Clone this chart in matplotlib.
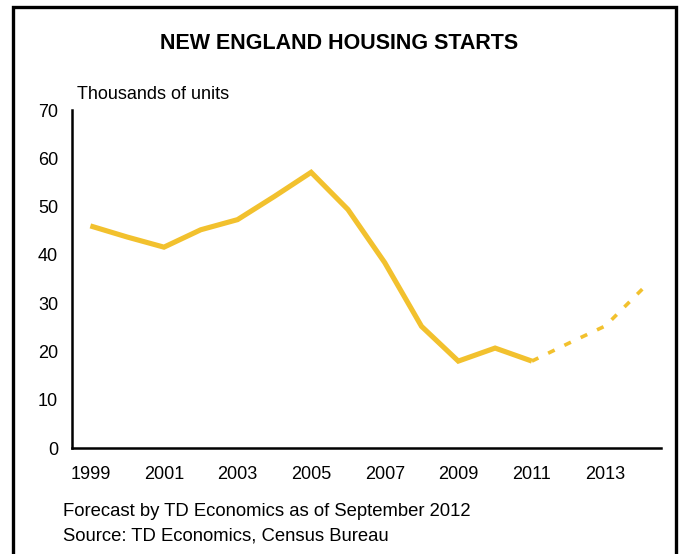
import matplotlib
matplotlib.use("Agg")
import matplotlib.pyplot as plt

plt.rcParams['font.family'] = ['Liberation Sans', 'DejaVu Sans']

# housing starts, thousands of units
years = list(range(1999, 2015))
actual_years = list(range(1999, 2012))
actual = [46.0, 43.7, 41.6, 45.2, 47.3, 52.1, 57.1, 49.4, 38.4, 25.2, 18.0, 20.7, 18.0]
forecast_years = [2011, 2012, 2013, 2014]
forecast = [18.0, 21.7, 25.3, 32.9]
tick_years = [1999, 2001, 2003, 2005, 2007, 2009, 2011, 2013]
yticks = [0, 10, 20, 30, 40, 50, 60, 70]

gold = '#F2C12E'

fig = plt.figure(figsize=(6.79, 5.54), dpi=100)
ax = fig.add_axes([0.106, 0.1913, 0.867, 0.6101])

pos = {y: i for i, y in enumerate(years)}
ax.plot([pos[y] for y in actual_years], actual, color=gold, lw=3.7,
        solid_joinstyle='miter', solid_capstyle='butt')
ax.plot([pos[y] for y in forecast_years], forecast, color=gold, lw=2.6,
        dashes=(2.0, 3.0))

ax.set_xlim(-0.5, len(years) - 0.5)
ax.set_ylim(0, 70)
ax.set_xticks([pos[y] for y in tick_years])
ax.set_xticklabels([str(y) for y in tick_years])
ax.set_yticks(yticks)
ax.tick_params(length=0, labelsize=13)
ax.tick_params(axis='x', pad=13)
ax.tick_params(axis='y', pad=10)
for side in ['top', 'right']:
    ax.spines[side].set_visible(False)
for side in ['left', 'bottom']:
    ax.spines[side].set_linewidth(1.8)
    ax.spines[side].set_color('black')

fig.text(0.5, 0.921, 'NEW ENGLAND HOUSING STARTS', ha='center', va='center',
         fontsize=15.5, fontweight='bold')
fig.text(0.113, 0.829, 'Thousands of units', ha='left', va='center', fontsize=13)
fig.text(0.093, 0.076, 'Forecast by TD Economics as of September 2012',
         ha='left', va='center', fontsize=13.3)
fig.text(0.093, 0.032, 'Source: TD Economics, Census Bureau',
         ha='left', va='center', fontsize=13.3)

# outer frame, open at the bottom
x0, x1 = 13 / 679, 675.5 / 679
y1 = 1 - 7 / 554
fig.add_artist(plt.Line2D([x0, x0, x1, x1], [0, y1, y1, 0], color='black',
                          lw=2.4, solid_joinstyle='miter',
                          transform=fig.transFigure))

fig.savefig('out.png', dpi=100)
